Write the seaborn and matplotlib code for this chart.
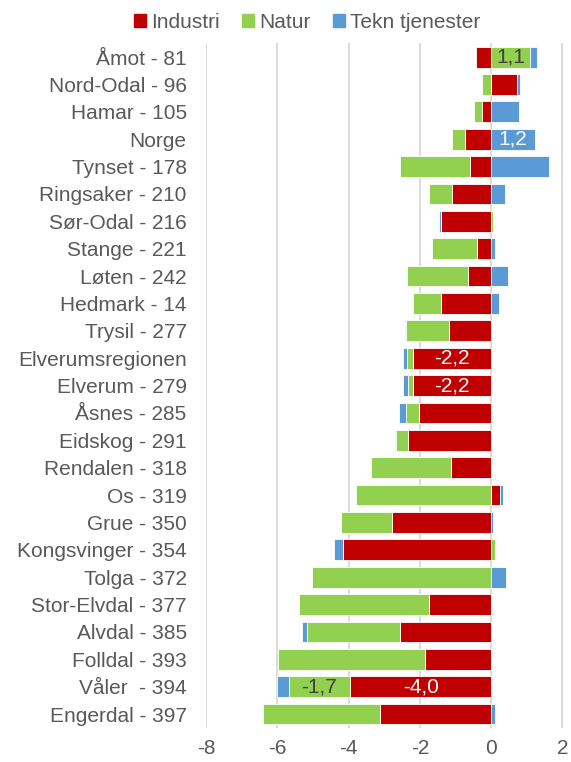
import numpy as np
import pandas as pd
import seaborn as sns
import matplotlib.pyplot as plt
from matplotlib.patches import Patch

kommuner = ["Åmot - 81", "Nord-Odal - 96", "Hamar - 105", "Norge", "Tynset - 178",
            "Ringsaker - 210", "Sør-Odal - 216", "Stange - 221", "Løten - 242",
            "Hedmark - 14", "Trysil - 277", "Elverumsregionen", "Elverum - 279",
            "Åsnes - 285", "Eidskog - 291", "Rendalen - 318", "Os - 319", "Grue - 350",
            "Kongsvinger - 354", "Tolga - 372", "Stor-Elvdal - 377", "Alvdal - 385",
            "Folldal - 393", "Våler  - 394", "Engerdal - 397"]

industri = [-0.43, 0.72, -0.26, -0.73, -0.60, -1.09, -1.40, -0.41, -0.66, -1.41,
            -1.17, -2.19, -2.20, -2.02, -2.33, -1.13, 0.26, -2.77, -4.17, 0.0,
            -1.75, -2.57, -1.85, -3.96, -3.11]
natur = [1.08, -0.27, -0.22, -0.36, -1.95, -0.65, 0.05, -1.24, -1.69, -0.77,
         -1.21, -0.16, -0.12, -0.37, -0.33, -2.23, -3.78, -1.45, 0.12, -5.02,
         -3.63, -2.60, -4.12, -1.72, -3.28]
tekn = [0.20, 0.08, 0.78, 1.24, 1.63, 0.40, -0.07, 0.12, 0.48, 0.22,
        -0.05, -0.13, -0.16, -0.20, -0.05, 0.0, 0.08, 0.05, -0.25, 0.43,
        0.0, -0.15, 0.0, -0.32, 0.11]

serier = ["Industri", "Natur", "Tekn tjenester"]
farger = {"Industri": "#C00000", "Natur": "#92D050", "Tekn tjenester": "#5B9BD5"}

# labels shown in the original: (row, series, text, colour)
etiketter = [(0, "Natur", "1,1", "#404040"), (3, "Tekn tjenester", "1,2", "white"),
             (11, "Industri", "-2,2", "white"), (12, "Industri", "-2,2", "white"),
             (23, "Natur", "-1,7", "#404040"), (23, "Industri", "-4,0", "white")]

txt = "#595959"
fs = 15
plt.rcParams["font.family"] = ["Liberation Sans", "DejaVu Sans"]

fig = plt.figure(figsize=(5.71, 7.62), dpi=100)
ax = fig.add_axes([0.361, 0.045, 0.627, 0.898])

verdier = {"Industri": industri, "Natur": natur, "Tekn tjenester": tekn}
pos_base = np.zeros(len(kommuner))
neg_base = np.zeros(len(kommuner))
starts = {}
for s in serier:
    v = np.array(verdier[s], dtype=float)
    left = np.where(v >= 0, pos_base, neg_base)
    starts[s] = left.copy()
    df = pd.DataFrame({"kommune": kommuner, "verdi": v})
    sns.barplot(data=df, x="verdi", y="kommune", orient="y", color=farger[s],
                width=0.76, left=left, saturation=1, edgecolor="white",
                linewidth=0.6, ax=ax, zorder=2)
    pos_base = np.where(v >= 0, pos_base + v, pos_base)
    neg_base = np.where(v < 0, neg_base + v, neg_base)

for rad, s, tekst, c in etiketter:
    v = verdier[s][rad]
    ax.text(starts[s][rad] + v / 2, rad, tekst, ha="center", va="center",
            fontsize=fs, color=c, zorder=3)

ax.set_xlim(-8, 2.05)
ax.set_ylim(len(kommuner) - 0.5, -0.5)
ax.set_xticks([-8, -6, -4, -2, 0, 2])
ax.set_xticklabels(["-8", "-6", "-4", "-2", "0", "2"])
ax.set_xlabel("")
ax.set_ylabel("")
ax.grid(axis="x", color="#D9D9D9", linewidth=1.3, zorder=0)
ax.set_axisbelow(True)
for sp in ax.spines.values():
    sp.set_visible(False)
ax.tick_params(axis="both", length=0, labelsize=fs, colors=txt)
ax.tick_params(axis="x", pad=8)
ax.tick_params(axis="y", pad=14)

handles = [Patch(color=farger[s], label=s) for s in serier]
fig.legend(handles=handles, loc="center", bbox_to_anchor=(0.538, 0.971),
           ncol=3, frameon=False, fontsize=fs, labelcolor=txt,
           handlelength=0.55, handleheight=0.55, handletextpad=0.25,
           columnspacing=1.1, borderpad=0)

fig.savefig("out.png", dpi=100)
